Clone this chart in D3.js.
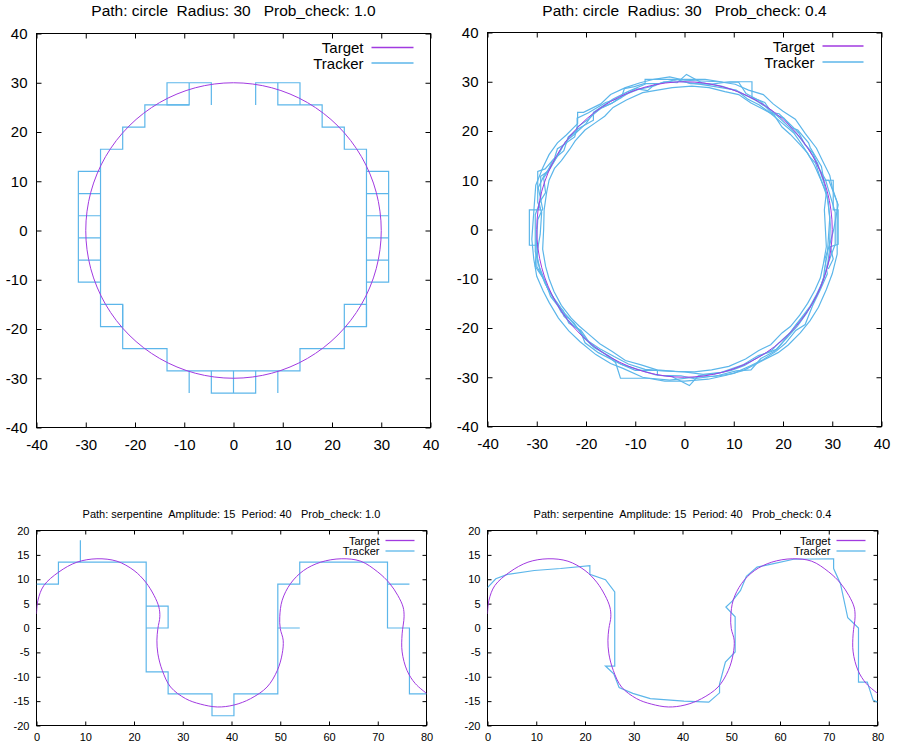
<!DOCTYPE html>
<html lang="en">
<head>
  <meta charset="UTF-8">
  <title>tracker vs target</title>
  <style>
    body { margin: 0; background: #fff; }
    svg text { font-family: "Liberation Sans", Arial, Helvetica, sans-serif; fill: #000; white-space: pre; }
  </style>
</head>
<body>
  <div class="chart"></div>
  <script src="https://cdnjs.cloudflare.com/ajax/libs/d3/7.8.5/d3.min.js"></script>
  <script>
    // ---- data ----
    const circleTicks = [-40, -30, -20, -10, 0, 10, 20, 30, 40];
    const serpXTicks = [0, 10, 20, 30, 40, 50, 60, 70, 80];
    const serpYTicks = [-20, -15, -10, -5, 0, 5, 10, 15, 20];

    const titles = [
      'Path: circle  Radius: 30   Prob_check: 1.0',
      'Path: circle  Radius: 30   Prob_check: 0.4',
      'Path: serpentine  Amplitude: 15  Period: 40   Prob_check: 1.0',
      'Path: serpentine  Amplitude: 15  Period: 40   Prob_check: 0.4'
    ];
    const seriesNames = ['Target', 'Tracker'];

    // target circle, every 15 degrees
    const circleX = [30, 28.98, 25.98, 21.21, 15, 7.76, 0, -7.76, -15, -21.21, -25.98, -28.98,
                     -30, -28.98, -25.98, -21.21, -15, -7.76, 0, 7.76, 15, 21.21, 25.98, 28.98];
    const circleY = [0, 7.76, 15, 21.21, 25.98, 28.98, 30, 28.98, 25.98, 21.21, 15, 7.76,
                     0, -7.76, -15, -21.21, -25.98, -28.98, -30, -28.98, -25.98, -21.21, -15, -7.76];

    // tracker, prob 1.0 (grid steps of 4.5)
    const trackerCircleFull = [
      [[-4.5, 25.5], [-4.5, 30], [-13.5, 30], [-13.5, 25.5], [-9, 25.5], [-9, 30]],
      [[-9, 25.5], [-18, 25.5], [-18, 21], [-22.5, 21], [-22.5, 16.5], [-27, 16.5], [-27, -19.5],
       [-22.5, -19.5], [-22.5, -15], [-27, -15]],
      [[-22.5, -15], [-22.5, -24], [-13.5, -24], [-13.5, -28.5], [13.5, -28.5], [13.5, -24],
       [22.5, -24], [22.5, -15], [27, -15], [27, -19.5], [22.5, -19.5]],
      [[27, -19.5], [27, 16.5], [22.5, 16.5], [22.5, 21], [18, 21], [18, 25.5], [9, 25.5], [9, 30]],
      [[4.5, 25.5], [4.5, 30], [13.5, 30], [13.5, 25.5]],
      [[-27, 12], [-31.5, 12], [-31.5, -10.5], [-27, -10.5]],
      [[-31.5, 7.5], [-27, 7.5]], [[-31.5, 3], [-27, 3]], [[-31.5, -1.5], [-27, -1.5]], [[-31.5, -6], [-27, -6]],
      [[27, 12], [31.5, 12], [31.5, -10.5], [27, -10.5]],
      [[31.5, 7.5], [27, 7.5]], [[31.5, 3], [27, 3]], [[31.5, -1.5], [27, -1.5]], [[31.5, -6], [27, -6]],
      [[-9, -28.5], [-9, -33]], [[9, -28.5], [9, -33]], [[0, -28.5], [0, -33]],
      [[-4.5, -28.5], [-4.5, -33], [4.5, -33], [4.5, -28.5]]
    ];

    // tracker, prob 0.4 (several noisy laps)
    const trackerCirclePartial = [
      [[30.6, -3], [30.6, 3.5], [29.4, 7.5], [28.6, 10.2], [27.2, 12.6], [26.1, 15.5], [24.5, 17.2], [23.2, 19.6],
       [21, 21.8], [19.2, 23.5], [17.5, 23.8], [15.5, 26], [12.5, 27.6], [11, 29.9], [8, 29.9], [4.2, 30.5],
       [-8, 30.5], [-8, 29.5], [-11.5, 28], [-14.5, 26.5], [-18.5, 23.8], [-18.5, 22.2], [-21.5, 20.5],
       [-23.6, 18.8], [-24.5, 16], [-26.8, 14], [-27.8, 11.8], [-29.2, 10.8], [-29.2, 6], [-30.3, 3],
       [-30.3, -4.5], [-29.5, -7.5], [-28.6, -9.8], [-27.8, -12], [-26.3, -14.5], [-24.6, -16.5], [-23.5, -19],
       [-21.2, -20.5], [-20.2, -23], [-17.5, -25], [-13, -27.3], [-10, -28.6], [-5.5, -28.6], [-5.5, -29.6],
       [-0.7, -29.7], [2, -30.3], [7, -29.6], [10.5, -28.7], [13.5, -28.5], [15.5, -26.2], [18.2, -24.8],
       [20.8, -22], [23, -19.5], [24.8, -17], [26.5, -14], [27.5, -12], [28.5, -9], [29.3, -6.5], [30.6, -3]],
      [[29.6, 1], [29.2, 5.5], [28.4, 9.2], [27, 13.5], [25.3, 16.2], [22.8, 19.4], [20.5, 21.5], [17.6, 24.2],
       [14.5, 26.2], [11, 28], [7.5, 29.1], [3.5, 29.8], [0.4, 31.5], [-1.5, 29.8], [-4.2, 30], [-6, 29.2],
       [-9.5, 28.4], [-12.5, 27.2], [-14.8, 25.6], [-17.2, 24.6], [-19.5, 22.4], [-21.8, 20.8], [-22.3, 18.8],
       [-24.6, 17.2], [-25.8, 15], [-27.2, 12.5], [-28.6, 10.5], [-28.2, 7.5], [-29.5, 5.4], [-29.2, 4],
       [-31.5, 4], [-31.5, -3.2], [-29.8, -3.2], [-30, -7.5], [-28.8, -9.6], [-27.9, -11.7], [-26.4, -14.2],
       [-25, -16.8], [-22.5, -18.9], [-20.6, -21.8], [-18.3, -24], [-15.5, -25.6], [-12.8, -27.4], [-9.5, -28.4],
       [-5.8, -29.5], [-2.5, -29.9], [1, -31.7], [2.8, -29.7], [6, -29.3], [9.5, -28.6], [12.2, -27.6],
       [14.8, -26], [17.8, -24.4], [19.2, -23], [21.6, -20.8], [23.3, -18.5], [25.5, -15.6], [26.8, -13.2],
       [28, -10.7], [29, -7.5], [29.4, -4.5], [29.6, 1]],
      [[30.3, 0], [31.2, 5], [29.3, 10], [28.3, 10], [27.8, 12.8], [25.5, 16.7], [25.2, 17.6], [23, 20.2],
       [21.7, 20.7], [20.2, 22.6], [17.8, 23.6], [16.3, 25.8], [13.7, 26.8], [13.7, 30], [9.2, 30], [5.5, 29.5],
       [1.2, 29.6], [-1.5, 30.5], [-5.3, 29.6], [-8.2, 29.6], [-10.2, 29], [-12.2, 28.6], [-12.8, 26.8],
       [-16, 25.8], [-19.5, 23.7], [-21.8, 22.6], [-21.8, 20], [-23.5, 18.8], [-24, 17.5], [-25.8, 16.4],
       [-26.4, 14.5], [-28.3, 12.3], [-29.8, 11.8], [-29.8, 5.5], [-29, 3.5], [-29.3, -1], [-30, -5],
       [-29.3, -8.5], [-28.3, -11], [-26.5, -14], [-25.4, -15.5], [-24.5, -17.6], [-22.3, -19.7], [-21, -20.5],
       [-19, -23.4], [-16.5, -25], [-14, -27], [-13, -30.2], [-7, -30.2], [-3, -30.6], [2, -30], [6.5, -29.8],
       [10, -29.2], [13.5, -27.6], [16, -26.4], [18.5, -24.8], [20.5, -23.1], [22.6, -20.5], [24.5, -19.3],
       [26, -15.5], [27.6, -12.2], [29, -9], [28.5, -6], [29.5, -3], [30.3, 0]],
      [[29.2, -2], [29.5, 2.5], [29, 6.5], [28.3, 8.5], [27.4, 11], [26.6, 13.5], [25.4, 14.8], [24, 17],
       [22.2, 19.6], [19.6, 21.8], [17.2, 23.8], [15.2, 25.3], [12.8, 26.5], [10.5, 28.3], [6.2, 29], [3, 29.5],
       [-2, 30.2], [-6, 29.5], [-7.5, 28.2], [-10, 28.6], [-12.8, 26.8], [-14.5, 25.8], [-16.8, 24.7],
       [-18.8, 23.2], [-20, 21.5], [-22.4, 19.3], [-24.2, 17.8], [-25.5, 15.4], [-27, 13], [-28.5, 11],
       [-29.7, 8.5], [-28.8, 4.2], [-29.8, 2], [-30.3, -7.5], [-28.3, -10.5], [-27.2, -13.6], [-25.3, -16],
       [-23.6, -17.8], [-21.5, -20.3], [-19.8, -22.5], [-17.2, -24.2], [-14.3, -25.8], [-11.4, -27.3],
       [-8, -28.4], [-4.5, -28.7], [0, -28.9], [3.8, -29.4], [7.5, -29], [12, -27.4], [15, -25.6], [17, -25],
       [18.8, -24.3], [21.2, -21.3], [22.8, -19.1], [24.3, -17.5], [25.8, -15.3], [27.2, -12.8], [28.2, -10],
       [28.5, -7.6], [29, -5], [29.2, -2]],
      [[31, -5], [31, 5.5], [30, 8.5], [29.5, 11], [28, 14], [26.8, 16.5], [24.5, 19.5], [22.5, 22.4], [20, 24],
       [18, 25.5], [16, 27.4], [13, 28.3], [10.3, 29.5], [7, 30], [0, 30.3], [-3, 31], [-6.2, 30.5], [-9, 29.8],
       [-12, 28.8], [-15, 27.4], [-17, 25.5], [-20.5, 23.8], [-21.7, 23.8], [-21.7, 21.5], [-24, 19.2],
       [-25.8, 17.6], [-27.5, 15.2], [-28.8, 12.5], [-29.3, 11.2], [-30.2, 9], [-30.5, 5], [-31, -2],
       [-30.6, -6], [-30, -9.5], [-28.7, -12.5], [-27.5, -14.8], [-25.6, -18], [-23.5, -20.6], [-21.2, -22.8],
       [-18, -25.4], [-15, -27.2], [-12.5, -28.2], [-8.5, -30], [-4, -30.8], [0, -30.8], [4.8, -30.4],
       [8.5, -29.6], [12, -28.6], [15.5, -26.8], [19, -25], [21, -23.5], [23.5, -21], [25.5, -18.5],
       [27.2, -15.8], [28.8, -12.2], [30, -9], [31, -5]],
      [[28.4, 4], [28.8, 7.5], [27.5, 10.5], [26.4, 13], [25, 15.5], [23.5, 17.2], [21.5, 19.3], [19.8, 20.8],
       [18.2, 23.2], [15.8, 24.5], [13.5, 25.7], [11, 27.4], [8.2, 28], [5, 28.8], [1.5, 29.1], [-2.5, 28.8],
       [-5.5, 28.3], [-8.5, 27.8], [-11.8, 26.3], [-14.5, 24.8], [-16.2, 23], [-18.2, 21.6], [-20.2, 20.2],
       [-22.2, 18], [-23.3, 16.3], [-25, 14], [-26.4, 12.4], [-27.5, 10], [-28, 7.5], [-28.5, 4], [-28.6, 0],
       [-28.8, -4], [-28.2, -7.5], [-27.5, -10], [-26.5, -12.6], [-25, -15.4], [-23, -18], [-21.4, -19.6],
       [-19.4, -21.3], [-17.2, -23.2], [-14.6, -24.8], [-12, -26.6], [-8.8, -27.5], [-5.6, -28.5], [-2, -28.8],
       [2, -28.9], [5.5, -28.5], [9, -27.8], [12.4, -26.3], [15, -24.6], [17.5, -23.4], [19.8, -21],
       [21.5, -19.7], [23.4, -17.4], [25, -15], [26.5, -12.3], [27.6, -9.8], [28.2, -7], [28.8, -3.5], [28.4, 4]],
      [[28.5, 10], [30.2, 10], [30.2, 4], [31.2, 4], [31.2, -3], [29.6, -3.5], [30.2, -6], [29.2, -8]]
    ];

    // target serpentine
    const serpX = [0, 0.3, 1.5, 4.6, 8.3, 12.4, 16.5, 20, 22.4, 24.1, 25.1, 25.3, 24.9, 24.7, 24.9,
                   25.8, 27.5, 30.6, 33.6, 37.1, 40.5, 43.9, 47.3, 49.4, 50.4, 50.6, 50, 49.9, 50.4,
                   52.1, 54.8, 58.3, 62.5, 66.5, 70, 72.4, 74.1, 75.2, 75.4, 75, 75, 76, 77.7, 80];
    const serpY = [2.9, 5.7, 8.7, 11.5, 13.5, 14.2, 13.7, 11.8, 9.4, 6.7, 4.3, 2.3, -0.1, -2.5, -5.3,
                   -8.7, -12.1, -14.5, -15.6, -16.2, -15.8, -14.5, -12.1, -8.7, -5.3, -2.5, -0.1, 2.3, 5.7,
                   9.1, 11.8, 13.5, 14.2, 13.7, 11.5, 9.2, 6.7, 4.3, 2.3, -1.2, -4.9, -8.7, -11.4, -13.4];

    const trackerSerpFull = [
      [[0, 9], [4.5, 9], [4.5, 13.5], [22.5, 13.5], [22.5, -9], [27, -9], [27, -13.5], [36, -13.5], [36, -18],
       [40.5, -18], [40.5, -13.5], [49.5, -13.5], [49.5, 9], [54, 9], [54, 13.5], [72, 13.5], [72, 0],
       [76.5, 0], [76.5, -13.5], [80, -13.5]],
      [[9, 13.5], [9, 18]],
      [[22.5, 4.5], [27, 4.5], [27, 0], [22.5, 0]],
      [[49.5, 0], [54, 0]],
      [[72, 9], [76.5, 9]]
    ];

    const trackerSerpPartial = [
      [[0, 8.3], [1.7, 10.1], [4.1, 11], [9.6, 11.8], [15, 12.2], [21, 12.8], [21, 11], [24.2, 9.9], [26.1, 7.4],
       [26.1, -7.8], [24.2, -7.8], [25.9, -9.4], [27, -12.2], [29.8, -13.4], [33.4, -14.5], [40.3, -15],
       [45.4, -15.2], [47.6, -13.3], [47.6, -11.5], [48.8, -7], [50.8, -4.9], [50.8, 2.3], [48.9, 4.3],
       [50.2, 5.5], [51.9, 7.7], [53.1, 10.6], [55.3, 12.5], [58.7, 13.2], [62.8, 14.1], [71, 14.2],
       [71, 12.2], [72.4, 9.1], [73.9, 2.1], [76.1, 0], [76.1, -11.1], [77.9, -11.1], [79.1, -14.8], [80, -15.2]]
    ];

    // ---- layout ----
    const targetColor = '#a13ae0';
    const trackerColor = '#5cb6ea';

    const panels = [
      { left: 36, top: 33, width: 394, height: 394, xDomain: [-40, 40], yDomain: [-40, 40],
        xTicks: circleTicks, yTicks: circleTicks, title: titles[0],
        target: d3.zip(circleX, circleY), closed: true, tracker: trackerCircleFull,
        font: 15, titleFont: 15.5, titleY: 15, tick: 5, padX: 12, padY: 9,
        legend: { text: 67, x1: 59, x2: 17, y1: 14, y2: 29.5, dy: 5.5 } },
      { left: 487, top: 32, width: 394, height: 394, xDomain: [-40, 40], yDomain: [-40, 40],
        xTicks: circleTicks, yTicks: circleTicks, title: titles[1],
        target: d3.zip(circleX, circleY), closed: true, tracker: trackerCirclePartial,
        font: 15, titleFont: 15.5, titleY: 15, tick: 5, padX: 12, padY: 9,
        legend: { text: 67, x1: 59, x2: 18, y1: 13.5, y2: 29.5, dy: 5.5 } },
      { left: 36, top: 530, width: 390, height: 195, xDomain: [0, 80], yDomain: [-20, 20],
        xTicks: serpXTicks, yTicks: serpYTicks, title: titles[2],
        target: d3.zip(serpX, serpY), closed: false, tracker: trackerSerpFull,
        font: 11, titleFont: 11, titleY: -13, tick: 4, padX: 8, padY: 7,
        legend: { text: 47, x1: 41, x2: 12, y1: 10, y2: 20.5, dy: 4 } },
      { left: 487, top: 530, width: 390, height: 195, xDomain: [0, 80], yDomain: [-20, 20],
        xTicks: serpXTicks, yTicks: serpYTicks, title: titles[3],
        target: d3.zip(serpX, serpY), closed: false, tracker: trackerSerpPartial,
        font: 11, titleFont: 11, titleY: -13, tick: 4, padX: 8, padY: 7,
        legend: { text: 47, x1: 41, x2: 12, y1: 10, y2: 20.5, dy: 4 } }
    ];

    const svg = d3.select('.chart')
      .append('svg')
      .attr('width', 897)
      .attr('height', 747);

    svg.append('rect').attr('width', 897).attr('height', 747).attr('fill', '#fff');

    // gnuplot prints a plain hyphen, not d3's unicode minus
    const plainFormat = d => String(d);

    panels.forEach((p, i) => {
      const g = svg.append('g').attr('transform', `translate(${p.left + 0.5},${p.top + 0.5})`);

      const x = d3.scaleLinear().domain(p.xDomain).range([0, p.width]);
      const y = d3.scaleLinear().domain(p.yDomain).range([p.height, 0]);

      g.append('clipPath').attr('id', 'clip' + i)
        .append('rect').attr('width', p.width).attr('height', p.height);

      // inward ticks on all four sides, labels bottom/left only
      const axes = [
        { axis: d3.axisBottom(x).tickValues(p.xTicks).tickFormat(plainFormat).tickPadding(p.padX), at: `translate(0,${p.height})` },
        { axis: d3.axisLeft(y).tickValues(p.yTicks).tickFormat(plainFormat).tickPadding(p.padY), at: null },
        { axis: d3.axisTop(x).tickValues(p.xTicks).tickFormat(''), at: null },
        { axis: d3.axisRight(y).tickValues(p.yTicks).tickFormat(''), at: `translate(${p.width},0)` }
      ];
      axes.forEach(a => {
        const ag = g.append('g').call(a.axis.tickSize(-p.tick));
        if (a.at) ag.attr('transform', a.at);
        ag.select('.domain').remove();
        ag.selectAll('line').attr('stroke', '#000');
        ag.selectAll('text')
          .attr('font-size', p.font)
          .attr('font-family', '"Liberation Sans", Arial, sans-serif')
          .attr('fill', '#000');
      });

      g.append('rect')
        .attr('width', p.width)
        .attr('height', p.height)
        .attr('fill', 'none')
        .attr('stroke', '#000')
        .attr('stroke-width', 1);

      const plot = g.append('g').attr('clip-path', `url(#clip${i})`);

      const targetLine = d3.line()
        .x(d => x(d[0]))
        .y(d => y(d[1]))
        .curve(p.closed ? d3.curveCatmullRomClosed : d3.curveCatmullRom);

      const trackerLine = d3.line()
        .x(d => x(d[0]))
        .y(d => y(d[1]));

      plot.selectAll('path.tracker')
        .data(p.tracker)
        .join('path')
        .attr('class', 'tracker')
        .attr('d', trackerLine)
        .attr('fill', 'none')
        .attr('stroke', trackerColor)
        .attr('stroke-width', 1.2)
        .attr('stroke-linejoin', 'miter');

      plot.append('path')
        .datum(p.target)
        .attr('d', targetLine)
        .attr('fill', 'none')
        .attr('stroke', targetColor)
        .attr('stroke-width', 1);

      // legend
      const lg = p.legend;
      [targetColor, trackerColor].forEach((c, k) => {
        const ly = k === 0 ? lg.y1 : lg.y2;
        g.append('text')
          .attr('x', p.width - lg.text)
          .attr('y', ly + lg.dy)
          .attr('text-anchor', 'end')
          .attr('font-size', p.font)
          .text(seriesNames[k]);
        g.append('line')
          .attr('x1', p.width - lg.x1)
          .attr('x2', p.width - lg.x2)
          .attr('y1', ly)
          .attr('y2', ly)
          .attr('stroke', c)
          .attr('stroke-width', 1.3);
      });

      g.append('text')
        .attr('x', p.width / 2)
        .attr('y', p.titleY - (i < 2 ? p.top : 0))
        .attr('text-anchor', 'middle')
        .attr('font-size', p.titleFont)
        .text(p.title);
    });
  </script>
</body>
</html>
